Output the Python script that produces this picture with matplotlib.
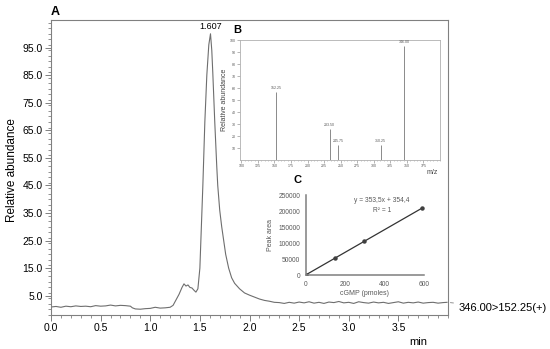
import numpy as np
import matplotlib
matplotlib.use("Agg")
import matplotlib.pyplot as plt
from matplotlib.ticker import MultipleLocator, FixedLocator

plt.rcParams['font.family'] = ['Liberation Sans', 'DejaVu Sans']

# Panel A: chromatogram (time in min, relative abundance)
time_min = [0.00, 0.05, 0.10, 0.15, 0.20, 0.25, 0.30, 0.35, 0.40, 0.45, 0.50, 0.55,
            0.60, 0.65, 0.70, 0.75, 0.80, 0.82, 0.85, 0.90, 0.95, 1.00, 1.05, 1.10,
            1.15, 1.20, 1.23, 1.26, 1.29, 1.32, 1.34, 1.36, 1.38, 1.40, 1.42, 1.44,
            1.46, 1.48, 1.50, 1.51, 1.53, 1.55, 1.57, 1.59, 1.607, 1.62, 1.63, 1.65,
            1.67, 1.68, 1.70, 1.72, 1.74, 1.76, 1.79, 1.82, 1.85, 1.90, 1.95, 2.00,
            2.05, 2.10, 2.15, 2.20, 2.25, 2.30, 2.35, 2.40, 2.45, 2.50, 2.55, 2.60,
            2.65, 2.70, 2.75, 2.80, 2.85, 2.90, 2.95, 3.00, 3.05, 3.10, 3.15, 3.20,
            3.25, 3.30, 3.35, 3.40, 3.45, 3.50, 3.55, 3.60, 3.65, 3.70, 3.75, 3.80,
            3.85, 3.90, 3.95, 3.99]
abundance = [0.9, 1.1, 0.8, 1.2, 1.0, 1.3, 1.1, 1.2, 1.0, 1.4, 1.2, 1.3,
             1.6, 1.3, 1.5, 1.4, 1.2, 0.6, 0.2, 0.1, 0.3, 0.4, 0.8, 0.5,
             0.6, 0.8, 1.5, 3.5, 5.5, 8.0, 9.3, 8.5, 8.9, 8.0, 7.8, 7.0,
             6.3, 7.5, 15.0, 25.0, 45.0, 68.0, 85.0, 96.0, 100.0, 94.0, 86.0, 68.0,
             52.0, 45.0, 36.0, 30.0, 25.0, 20.0, 15.0, 11.5, 9.5, 7.5, 6.0, 5.2,
             4.5, 3.8, 3.3, 3.0, 2.6, 2.5, 2.2, 2.6, 2.3, 2.7, 2.4, 2.8,
             2.3, 2.6, 2.2, 2.7, 2.5, 2.9, 2.4, 2.6, 2.2, 2.8, 2.5, 2.3,
             2.7, 2.4, 2.6, 2.2, 2.5, 2.8, 2.3, 2.6, 2.4, 2.7, 2.3, 2.5,
             2.6, 2.3, 2.5, 2.6]
peak_rt = 1.607
transition = "346.00>152.25(+)"

# Panel B: MS/MS spectrum
mz = [152.25, 233.50, 245.75, 310.25, 346.00]
mz_labels = ["152.25", "233.50", "245.75", "310.25", "346.00"]
ms_abundance = [57, 26, 12.5, 12.5, 95]

# Panel C: calibration curve
cgmp_pmol = [0, 148, 296, 592]
peak_area = [0, 52650, 105000, 209600]

fig = plt.figure(figsize=(5.5, 3.49), dpi=100)
gray = '#808080'

# ---- Panel A ----
ax = fig.add_axes([51/550, 1-315/349, 397/550, 295/349])
ax.plot(time_min, abundance, color='#6e6e6e', lw=0.8)
ax.set_xlim(0, 4.0)
ax.set_ylim(-2, 105)
ax.xaxis.set_major_locator(FixedLocator([0.0, 0.5, 1.0, 1.5, 2.0, 2.5, 3.0, 3.5]))
ax.xaxis.set_minor_locator(MultipleLocator(0.1))
ax.yaxis.set_major_locator(FixedLocator(np.arange(5, 100, 10)))
ax.yaxis.set_minor_locator(MultipleLocator(2))
ax.set_xticklabels(["0.0", "0.5", "1.0", "1.5", "2.0", "2.5", "3.0", "3.5"])
ax.set_yticklabels([f"{v:.1f}" for v in np.arange(5, 100, 10)])
ax.tick_params(which='major', direction='out', length=4, width=0.7, color=gray,
               labelsize=7.5, pad=2)
ax.tick_params(which='minor', direction='out', length=2.5, width=0.6, color=gray)
for s in ax.spines.values():
    s.set_color(gray)
    s.set_linewidth(0.8)
ax.annotate(f"{peak_rt:.3f}", (peak_rt, 100), xytext=(0, 2), textcoords='offset points',
            ha='center', va='bottom', fontsize=6.5)
fig.text(12/550, 1-170/349, "Relative abundance", rotation=90, ha='center', va='center',
         fontsize=8.5)
fig.text(418/550, 1-342/349, "min", ha='center', va='center', fontsize=8)
fig.text(51/550, 1-12/349, "A", ha='left', va='center', fontsize=9, fontweight='bold')
ax.annotate(transition, xy=(time_min[-1], abundance[-1]), xycoords='data',
            xytext=(459/550, 1-308/349), textcoords='figure fraction',
            ha='left', va='center', fontsize=8, annotation_clip=False,
            arrowprops=dict(arrowstyle='-', linestyle='--', color=gray, lw=0.6))

# ---- Panel B ----
axb = fig.add_axes([240/550, 1-160/349, 200/550, 120/349])
axb.vlines(mz, 0, ms_abundance, color='#8a8a8a', lw=0.7)
for m, a, lab in zip(mz, ms_abundance, mz_labels):
    axb.text(m, a + 1.5, lab, ha='center', va='bottom', fontsize=2.6, color='#555555')
axb.set_xlim(98, 400)
axb.set_ylim(0, 100)
axb.set_xticks(np.arange(100, 376, 25))
axb.set_yticks(np.arange(10, 101, 10))
axb.xaxis.set_minor_locator(MultipleLocator(5))
axb.tick_params(which='major', direction='out', length=2, width=0.5, color='#999999',
                labelsize=2.6, labelcolor='#555555', pad=1)
axb.tick_params(which='minor', direction='out', length=1, width=0.4, color='#999999')
for s in axb.spines.values():
    s.set_color('#b0b0b0')
    s.set_linewidth(0.6)
axb.set_ylabel("Relative abundance", fontsize=5, color='#444444', labelpad=1)
fig.text(432/550, 1-173/349, "m/z", ha='center', va='center', fontsize=5, color='#444444')
fig.text(233/550, 1-30/349, "B", ha='left', va='center', fontsize=8, fontweight='bold')

# ---- Panel C ----
axc = fig.add_axes([305.7/550, 1-275/349, 118.3/550, 80/349])
slope, intercept = np.polyfit(cgmp_pmol, peak_area, 1)
xfit = np.array([0, max(cgmp_pmol)])
axc.plot(xfit, slope*xfit + intercept, color='#333333', lw=0.9)
axc.plot(cgmp_pmol, peak_area, 'o', color='#404040', ms=2.2)
axc.set_xlim(0, 600)
axc.set_ylim(0, 250000)
axc.set_xticks([0, 200, 400, 600])
axc.set_yticks(np.arange(0, 250001, 50000))
axc.tick_params(length=0, labelsize=4.8, labelcolor='#595959', pad=4)
for side in ['top', 'right']:
    axc.spines[side].set_visible(False)
for side in ['left', 'bottom']:
    axc.spines[side].set_color('#7f7f7f')
    axc.spines[side].set_linewidth(1.1)
axc.set_ylabel("Peak area", fontsize=5, color='#595959', labelpad=3)
axc.set_xlabel("cGMP (pmoles)", fontsize=5, color='#595959', labelpad=2)
axc.text(382/550, 1-201/349, "y = 353,5x + 354,4", transform=fig.transFigure,
         ha='center', va='center', fontsize=4.8, color='#595959')
axc.text(382/550, 1-210/349, "R² = 1", transform=fig.transFigure,
         ha='center', va='center', fontsize=4.8, color='#595959')
fig.text(297/550, 1-180/349, "C", ha='center', va='center', fontsize=8, fontweight='bold')

fig.savefig("out.png", dpi=100)
